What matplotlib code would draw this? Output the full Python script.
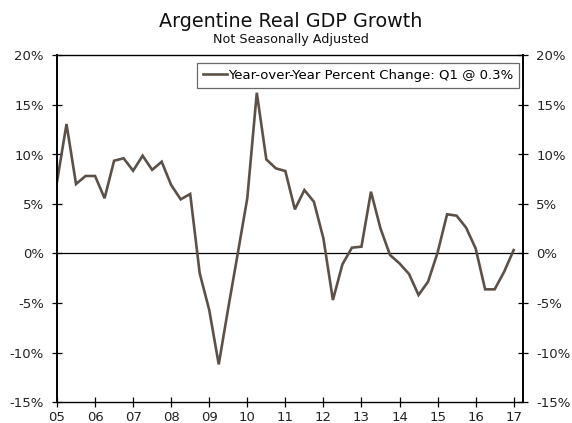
import matplotlib
matplotlib.use("Agg")
import matplotlib.pyplot as plt
import numpy as np

plt.rcParams['font.family'] = ['DejaVu Sans']

# Quarterly data Q1 2005 .. Q1 2017
start_year = 2005
values = [7.25, 13.08, 7.02, 7.83, 7.83, 5.58, 9.37, 9.62, 8.36, 9.88,
          8.45, 9.27, 6.92, 5.47, 6.01, -2.0, -5.7, -11.2, -5.5, 0.0,
          5.58, 16.24, 9.51, 8.6, 8.33, 4.46, 6.41, 5.23, 1.53, -4.7,
          -1.09, 0.59, 0.69, 6.24, 2.54, -0.15, -1.0, -2.07, -4.19, -2.85,
          0.08, 3.96, 3.82, 2.61, 0.52, -3.62, -3.62, -1.84, 0.35]
x = [start_year + i / 4 for i in range(len(values))]

year_ticks = list(range(2005, 2018))
year_labels = ["05", "06", "07", "08", "09", "10", "11", "12", "13", "14", "15", "16", "17"]
y_ticks = [-15, -10, -5, 0, 5, 10, 15, 20]
y_labels = ["-15%", "-10%", "-5%", "0%", "5%", "10%", "15%", "20%"]

fig = plt.figure(figsize=(5.72, 4.23), dpi=100)
ax = fig.add_axes([57 / 572, 21 / 423, 466 / 572, 346.5 / 423])

line_color = "#5c5148"
ax.plot(x, values, color=line_color, lw=1.9, solid_joinstyle="miter",
        label="Year-over-Year Percent Change: Q1 @ 0.3%")
ax.axhline(0, color="black", lw=0.9, zorder=1)

ax.set_xlim(2005, 2017.245)
ax.set_ylim(-15, 20)
ax.set_xticks(year_ticks)
ax.set_xticklabels(year_labels)
ax.set_yticks(y_ticks)
ax.set_yticklabels(y_labels)
ax.tick_params(axis="both", direction="inout", length=7, width=0.9, labelsize=9.5,
               colors="black", labelcolor="#222222")
ax.tick_params(axis="y", right=True, labelright=True, pad=6)
ax.tick_params(axis="x", pad=3)
for s in ax.spines.values():
    s.set_color("black")
    s.set_linewidth(1.0)
ax.spines["left"].set_linewidth(1.4)
ax.spines["right"].set_linewidth(1.4)

leg = ax.legend(loc="upper right", bbox_to_anchor=(0.992, 0.978), fontsize=9.5,
                frameon=True, fancybox=False, handlelength=1.8, handletextpad=0.1,
                borderpad=0.45, borderaxespad=0.0)
leg.get_frame().set_edgecolor("#444444")
leg.get_frame().set_linewidth(0.9)

fig.text(0.508, 0.937, "Argentine Real GDP Growth", ha="center", va="baseline",
         fontsize=13.8, color="#111111")
fig.text(0.508, 0.898, "Not Seasonally Adjusted", ha="center", va="baseline",
         fontsize=9.2, color="#111111")

fig.savefig("out.png", dpi=100)
